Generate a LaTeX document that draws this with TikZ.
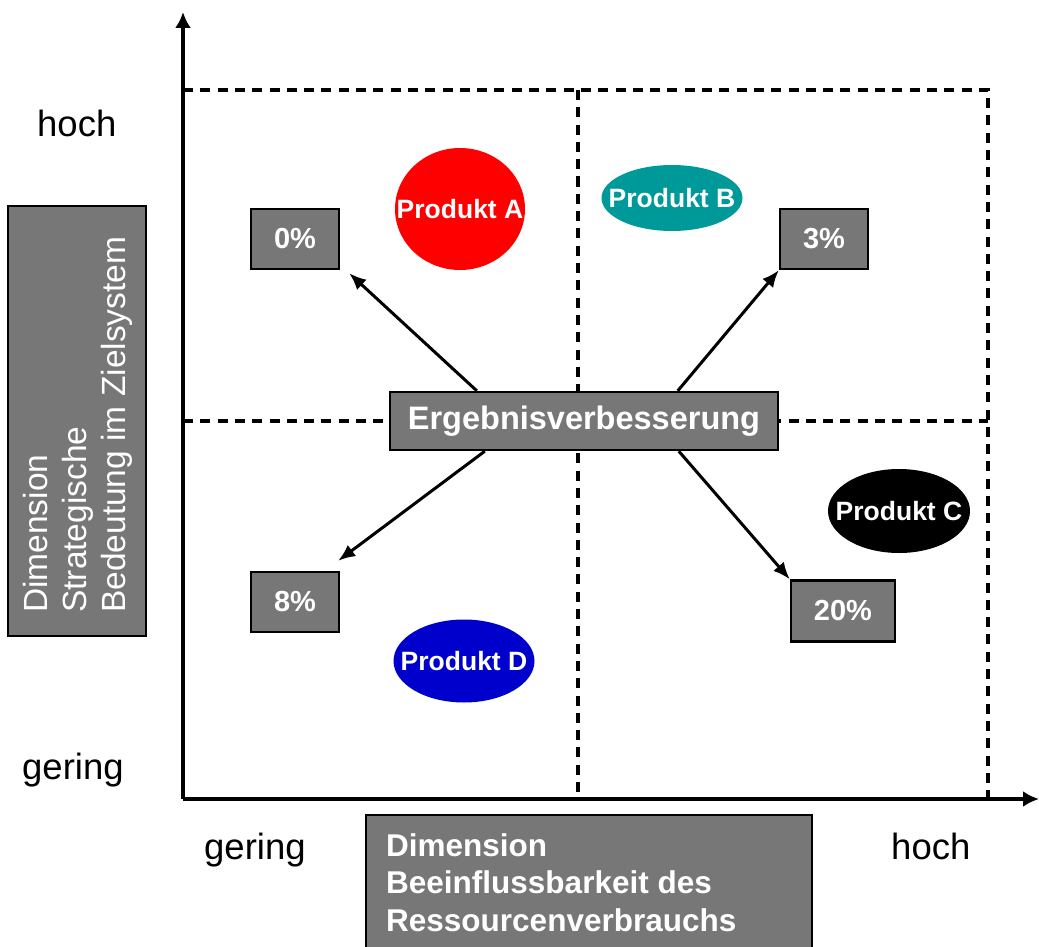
\documentclass[tikz,border=0pt]{standalone}
\usepackage{fontspec}
\setmainfont{Liberation Sans}
\usetikzlibrary{arrows.meta,calc,shapes.geometric}
\definecolor{boxgray}{RGB}{119,119,119}
\definecolor{tealB}{RGB}{0,153,153}
\definecolor{blueD}{RGB}{0,0,204}
\definecolor{redA}{RGB}{255,0,0}
\begin{document}
\begin{tikzpicture}[x=1pt,y=-1pt,
  axis/.style={line width=3.2pt,-{Latex[length=16pt,width=16pt]}},
  grid/.style={line width=3.2pt,dash pattern=on 10pt off 7.3pt},
  graybox/.style={draw=black,line width=2.4pt,fill=boxgray,text=white,inner sep=0pt},
  pct/.style={graybox,minimum width=88pt,minimum height=60pt,font=\bfseries\fontsize{29}{32}\selectfont},
  prod/.style={ellipse,inner sep=0pt},
  prodtext/.style={inner sep=0pt,text=white,font=\bfseries\fontsize{26.5}{30}\selectfont},
  lbl/.style={inner sep=0pt,anchor=base west,font=\fontsize{36.5}{40}\selectfont},
  arr/.style={line width=3pt,-{Latex[length=17pt,width=14pt]}}
]
\useasboundingbox (0,0) rectangle (1039,947);
% grid
\coordinate (g1) at (183,90);
\coordinate (g2) at (988,90);
\coordinate (g3) at (988,798);
\coordinate (g4) at (183,421);
\coordinate (g5) at (988,421);
\coordinate (g6) at (578,90);
\coordinate (g7) at (578,798);
\draw[grid] (g1) -- (g2) -- (g3);
\draw[grid] (g4) -- (g5);
\draw[grid] (g6) -- (g7);
% axes
\coordinate (O) at (183,799);
\coordinate (ytop) at (183,12);
\coordinate (xend) at (1039,799);
\draw[axis] (O) -- (ytop);
\draw[axis] (O) -- (xend);
% axis labels
\node[lbl] (yhoch) at (37,137) {hoch};
\node[lbl] (ygering) at (22,779) {gering};
\node[lbl] (xgering) at (204,859) {gering};
\node[lbl] (xhoch) at (891,859) {hoch};
% left dimension box
\node[graybox,minimum width=138pt,minimum height=430pt] (ybox) at (77,421) {};
\node[rotate=90,anchor=north west,inner sep=0pt,align=left,text=white,font=\fontsize{33.5}{39}\selectfont] (ytext) at (23,613) {Dimension\\Strategische\\Bedeutung im Zielsystem};
% bottom dimension box
\node[graybox,anchor=north west,minimum width=446pt,minimum height=145pt] (xbox) at (365,814) {};
\node[anchor=north west,inner sep=0pt,align=left,text=white,font=\bfseries\fontsize{31.5}{37.5}\selectfont] (xtext) at (386,833) {Dimension\\Beeinflussbarkeit des\\Ressourcenverbrauchs};
% products
\node[prod,fill=redA,minimum width=130pt,minimum height=122pt] (pa) at (460,209) {};
\node[prodtext] (pat) at (pa) {Produkt A};
\node[prod,fill=tealB,minimum width=141pt,minimum height=66pt] (pb) at (672,198) {};
\node[prodtext] (pbt) at (pb) {Produkt B};
\node[prod,fill=black,minimum width=142pt,minimum height=84pt] (pc) at (899,511) {};
\node[prodtext] (pct) at (pc) {Produkt C};
\node[prod,fill=blueD,minimum width=141pt,minimum height=83pt] (pd) at (464,661) {};
\node[prodtext] (pdt) at (pd) {Produkt D};
% percent boxes
\node[pct] (p0) at (295,239) {0\%};
\node[pct] (p3) at (824,239) {3\%};
\node[pct] (p8) at (295,602) {8\%};
\node[pct,minimum width=104pt,minimum height=61pt] (p20) at (843,611) {20\%};
% central box
\node[graybox,minimum width=388pt,minimum height=58pt,font=\bfseries\fontsize{32.5}{36}\selectfont] (erg) at (584,421) {Ergebnisverbesserung};
% arrows
\draw[arr] ($(erg.north west)+(88,0)$) -- ($(p0.south east)+(9,3)$);
\draw[arr] ($(erg.north west)+(289,0)$) -- (p3.south west);
\draw[arr] ($(erg.south west)+(96,0)$) -- ($(p8.north east)+(-2,-10)$);
\draw[arr] ($(erg.south west)+(290,0)$) -- (p20.north west);
\end{tikzpicture}
\end{document}
